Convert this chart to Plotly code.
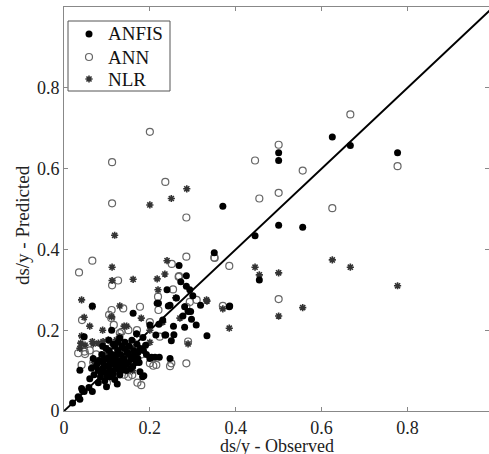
import plotly.graph_objects as go

# ---- data ----
anfis_x = [0.625,0.667,0.5,0.5,0.777,0.37,0.5,0.556,0.445,0.35,0.455,0.385,
           0.268,0.285,0.285,0.293,0.24,0.22,0.243,0.289,0.217,0.247,0.386,0.281,0.277,0.295,0.297,0.308,0.281,0.333,0.235,0.25,0.2,0.221,0.161,0.066,0.111,0.184,0.214,0.237,0.256,0.169,0.19,0.047,
           0.204,0.212,0.222,0.247,0.2,
           0.177,0.183,0.13,0.124,0.186,
           0.041,0.047,0.066,0.099,0.058,0.043,0.033,0.037,0.02,
           0.037,0.064,
           0.07,0.075,0.08,0.082,0.085,0.088,0.09,0.092,0.095,0.097,0.1,0.102,0.105,0.107,0.108,0.11,0.112,0.115,0.117,0.118,0.12,0.122,0.125,0.127,0.13,0.132,0.135,0.137,0.14,0.142,0.145,0.147,0.15,0.152,0.155,0.158,0.16,0.163,0.166,0.17,0.172,0.175,0.178,0.09,0.08,0.105,0.13,0.06,0.068,
           0.078,0.086,0.094,0.1,0.108,0.115,0.123,0.128,0.135,0.143,0.15,0.157,0.165,0.172,0.098,0.112,0.126,0.14,0.155,0.168,0.185,0.192,0.118,0.133,
           0.262,0.272,0.23,0.255,0.3,0.318]
anfis_y = [0.678,0.657,0.639,0.62,0.639,0.507,0.46,0.455,0.434,0.392,0.324,0.258,
           0.36,0.335,0.309,0.3,0.3,0.267,0.26,0.246,0.267,0.262,0.26,0.258,0.235,0.246,0.227,0.213,0.207,0.186,0.188,0.174,0.213,0.215,0.242,0.26,0.2,0.182,0.188,0.188,0.189,0.191,0.163,0.184,
           0.133,0.133,0.133,0.13,0.13,
           0.097,0.085,0.089,0.067,0.087,
           0.056,0.048,0.048,0.06,0.058,0.05,0.035,0.029,0.02,
           0.101,0.106,
           0.09,0.11,0.1,0.125,0.085,0.14,0.105,0.118,0.075,0.095,0.13,0.11,0.15,0.085,0.12,0.1,0.14,0.165,0.115,0.078,0.13,0.105,0.15,0.12,0.095,0.14,0.16,0.11,0.13,0.17,0.1,0.145,0.12,0.16,0.135,0.175,0.11,0.15,0.13,0.165,0.145,0.12,0.155,0.16,0.07,0.175,0.18,0.08,0.13,
           0.118,0.097,0.128,0.088,0.135,0.092,0.14,0.108,0.124,0.115,0.142,0.128,0.14,0.13,0.155,0.125,0.17,0.155,0.105,0.12,0.15,0.14,0.16,0.1,
           0.28,0.32,0.225,0.21,0.285,0.262]

ann_x = [0.667,0.5,0.445,0.556,0.777,0.455,0.5,0.625,0.35,0.385,0.5,0.37,0.2,0.112,0.236,0.112,0.285,0.351,0.285,0.251,0.268,0.066,0.035,0.126,0.112,0.267,0.254,0.219,0.285,0.309,0.293,0.177,0.138,0.105,0.111,0.11,0.042,0.116,0.134,0.289,0.223,0.13,0.033,0.049,0.048,0.208,0.247,0.285,0.2,0.215,0.25,0.171,0.18,0.15,0.153,0.159,0.041,0.068,
         0.09,0.12,0.14,0.1,0.16,0.075,0.13,0.17,0.2,0.22,0.18,0.06,0.1,0.15]
ann_y = [0.734,0.659,0.62,0.595,0.606,0.526,0.54,0.502,0.38,0.359,0.277,0.26,0.691,0.616,0.567,0.514,0.479,0.379,0.382,0.364,0.334,0.372,0.343,0.323,0.311,0.332,0.301,0.283,0.258,0.275,0.27,0.258,0.254,0.238,0.25,0.23,0.225,0.213,0.196,0.172,0.184,0.193,0.143,0.141,0.147,0.112,0.111,0.118,0.118,0.114,0.118,0.07,0.064,0.085,0.106,0.089,0.114,0.12,
         0.09,0.15,0.09,0.17,0.17,0.14,0.11,0.2,0.22,0.25,0.14,0.15,0.07,0.2]

nlr_x = [0.625,0.667,0.777,0.445,0.455,0.5,0.333,0.37,0.556,0.5,0.385,0.286,0.25,0.2,0.118,0.112,0.112,0.161,0.041,0.24,0.217,0.235,0.219,0.332,0.066,0.111,0.047,0.146,0.289,0.041,0.049,0.037,0.068,0.08,0.091,0.103,0.122,0.13,0.039,0.066,
         0.1,0.12,0.15,0.17,0.2,0.18,0.14,0.09,0.06,0.16,0.11,0.2,0.23,0.26,0.27,0.07,0.13]
nlr_y = [0.374,0.356,0.31,0.356,0.337,0.342,0.272,0.253,0.256,0.235,0.205,0.55,0.526,0.51,0.435,0.356,0.323,0.326,0.275,0.372,0.327,0.339,0.3,0.275,0.258,0.233,0.232,0.21,0.166,0.186,0.163,0.155,0.166,0.168,0.172,0.176,0.176,0.184,0.168,0.172,
         0.14,0.12,0.15,0.19,0.2,0.23,0.21,0.2,0.21,0.1,0.09,0.17,0.22,0.28,0.23,0.12,0.26]

line_x = [0, 1]
line_y = [0, 1]
x_ticks = [0, 0.2, 0.4, 0.6, 0.8]
y_ticks = [0, 0.2, 0.4, 0.6, 0.8, 1]
legend_names = ["ANFIS", "ANN", "NLR"]

FONT = "Liberation Serif"

ANFIS_M = dict(symbol="circle", size=7, color="black")
ANN_M = dict(symbol="circle-open", size=7, color="#666666", line=dict(width=1.2))
NLR_M = dict(symbol="asterisk-open", size=6, color="#333333", line=dict(width=1.6, color="#333333"))

fig = go.Figure()
fig.add_trace(go.Scatter(x=line_x, y=line_y, mode="lines",
                         line=dict(color="black", width=2), showlegend=False,
                         hoverinfo="skip"))
fig.add_trace(go.Scatter(x=ann_x, y=ann_y, mode="markers", name="ANN",
                         marker=ANN_M, showlegend=False))
fig.add_trace(go.Scatter(x=nlr_x, y=nlr_y, mode="markers", name="NLR",
                         marker=NLR_M, showlegend=False))
fig.add_trace(go.Scatter(x=anfis_x, y=anfis_y, mode="markers", name="ANFIS",
                         marker=ANFIS_M, showlegend=False))

# ---- legend box drawn on an overlay axis that spans the plot area in [0,1] ----
L_LEFT, L_RIGHT, L_TOP, L_BOT = 4/425, 106/425, 390/404, 320/404
key_x = 25/425
text_x = 42/425
row_y = [377/404, 354/404, 332/404]
fig.add_shape(type="rect", xref="paper", yref="paper", x0=L_LEFT, x1=L_RIGHT,
              y0=L_BOT, y1=L_TOP, line=dict(color="#555555", width=1),
              fillcolor="white", layer="below")
for name, m, ry in zip(legend_names, [ANFIS_M, ANN_M, NLR_M], row_y):
    fig.add_trace(go.Scatter(x=[key_x], y=[ry], xaxis="x2", yaxis="y2",
                             mode="markers", marker=m, showlegend=False,
                             hoverinfo="skip"))
    fig.add_annotation(text=name, xref="paper", yref="paper", x=text_x, y=ry,
                       xanchor="left", yanchor="middle", showarrow=False,
                       font=dict(family=FONT, size=19, color="#111111"))

axis_common = dict(showgrid=False, zeroline=False, showline=True, mirror="ticks",
                   linecolor="#888888", linewidth=1, ticks="inside", ticklen=4,
                   tickcolor="#888888", tickfont=dict(family=FONT, size=18, color="#222222"))

fig.update_xaxes(range=[0, 0.99], tickvals=x_ticks, **axis_common)
fig.update_yaxes(range=[0, 1], tickvals=y_ticks, **axis_common)

fig.update_layout(
    width=489, height=454,
    margin=dict(l=64, r=0, t=7, b=43),
    plot_bgcolor="white", paper_bgcolor="white",
    font=dict(family=FONT),
    showlegend=False,
    xaxis2=dict(overlaying="x", range=[0, 1], visible=False),
    yaxis2=dict(overlaying="y", range=[0, 1], visible=False),
    annotations=list(fig.layout.annotations) + [
        dict(text="ds/y - Observed", xref="paper", yref="paper", x=0.5, y=-0.087,
             showarrow=False, xanchor="center", yanchor="middle",
             font=dict(family=FONT, size=18, color="#222222")),
        dict(text="ds/y - Predicted", xref="paper", yref="paper", x=-0.099, y=0.46,
             showarrow=False, textangle=-90, xanchor="center", yanchor="middle",
             font=dict(family=FONT, size=19, color="#222222")),
    ],
)

fig.write_html("out.html", config={"displayModeBar": False},
               post_script="document.body.style.margin='0';document.body.style.padding='0';")
